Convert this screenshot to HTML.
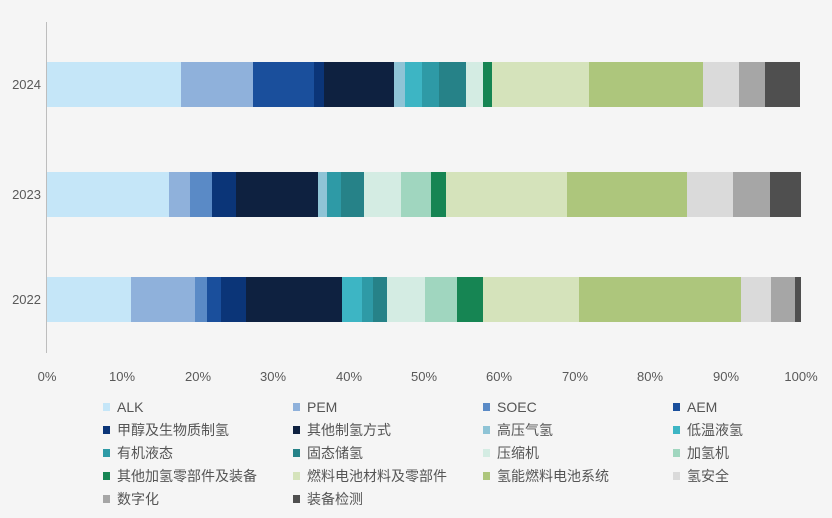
<!DOCTYPE html>
<html><head><meta charset="utf-8"><style>
body{margin:0;background:#f5f5f5}
svg{display:block;font-family:"Liberation Sans","Noto Sans CJK SC",sans-serif}
</style></head><body>
<svg width="832" height="518" viewBox="0 0 832 518" xmlns="http://www.w3.org/2000/svg">
<rect width="832" height="518" fill="#f5f5f5"/>
<line x1="46.5" y1="22" x2="46.5" y2="353" stroke="#bdbdbd" stroke-width="1"/>
<g id="b2024">
<rect x="47" y="62" width="134" height="45" fill="#c5e6f8"/>
<rect x="181" y="62" width="72" height="45" fill="#8fb1db"/>
<rect x="253" y="62" width="61" height="45" fill="#1a4f9c"/>
<rect x="314" y="62" width="10" height="45" fill="#0b3578"/>
<rect x="324" y="62" width="70" height="45" fill="#0e2140"/>
<rect x="394" y="62" width="11" height="45" fill="#8fc4d6"/>
<rect x="405" y="62" width="17" height="45" fill="#3db5c4"/>
<rect x="422" y="62" width="17" height="45" fill="#2e9aa6"/>
<rect x="439" y="62" width="27" height="45" fill="#268288"/>
<rect x="466" y="62" width="17" height="45" fill="#d4ece3"/>
<rect x="483" y="62" width="9" height="45" fill="#168553"/>
<rect x="492" y="62" width="97" height="45" fill="#d5e3bb"/>
<rect x="589" y="62" width="114" height="45" fill="#adc67c"/>
<rect x="703" y="62" width="36" height="45" fill="#dadada"/>
<rect x="739" y="62" width="26" height="45" fill="#a6a6a6"/>
<rect x="765" y="62" width="35" height="45" fill="#4f4f4f"/>
</g>
<g id="b2023">
<rect x="47" y="172" width="122" height="45" fill="#c5e6f8"/>
<rect x="169" y="172" width="21" height="45" fill="#8fb1db"/>
<rect x="190" y="172" width="22" height="45" fill="#5a8ac6"/>
<rect x="212" y="172" width="24" height="45" fill="#0b3578"/>
<rect x="236" y="172" width="82" height="45" fill="#0e2140"/>
<rect x="318" y="172" width="9" height="45" fill="#8fc4d6"/>
<rect x="327" y="172" width="14" height="45" fill="#2e9aa6"/>
<rect x="341" y="172" width="23" height="45" fill="#268288"/>
<rect x="364" y="172" width="37" height="45" fill="#d4ece3"/>
<rect x="401" y="172" width="30" height="45" fill="#a0d6bf"/>
<rect x="431" y="172" width="15" height="45" fill="#168553"/>
<rect x="446" y="172" width="121" height="45" fill="#d5e3bb"/>
<rect x="567" y="172" width="120" height="45" fill="#adc67c"/>
<rect x="687" y="172" width="46" height="45" fill="#dadada"/>
<rect x="733" y="172" width="37" height="45" fill="#a6a6a6"/>
<rect x="770" y="172" width="31" height="45" fill="#4f4f4f"/>
</g>
<g id="b2022">
<rect x="47" y="277" width="84" height="45" fill="#c5e6f8"/>
<rect x="131" y="277" width="64" height="45" fill="#8fb1db"/>
<rect x="195" y="277" width="12" height="45" fill="#5a8ac6"/>
<rect x="207" y="277" width="14" height="45" fill="#1a4f9c"/>
<rect x="221" y="277" width="25" height="45" fill="#0b3578"/>
<rect x="246" y="277" width="96" height="45" fill="#0e2140"/>
<rect x="342" y="277" width="20" height="45" fill="#3db5c4"/>
<rect x="362" y="277" width="11" height="45" fill="#2e9aa6"/>
<rect x="373" y="277" width="14" height="45" fill="#268288"/>
<rect x="387" y="277" width="38" height="45" fill="#d4ece3"/>
<rect x="425" y="277" width="32" height="45" fill="#a0d6bf"/>
<rect x="457" y="277" width="26" height="45" fill="#168553"/>
<rect x="483" y="277" width="96" height="45" fill="#d5e3bb"/>
<rect x="579" y="277" width="162" height="45" fill="#adc67c"/>
<rect x="741" y="277" width="30" height="45" fill="#dadada"/>
<rect x="771" y="277" width="24" height="45" fill="#a6a6a6"/>
<rect x="795" y="277" width="6" height="45" fill="#4f4f4f"/>
</g>
<g font-size="13" fill="#595959" text-anchor="end">
<text x="41" y="89">2024</text>
<text x="41" y="199">2023</text>
<text x="41" y="304">2022</text>
</g>
<g font-size="13" fill="#595959" text-anchor="middle">
<text x="47" y="381">0%</text><text x="122" y="381">10%</text><text x="198" y="381">20%</text>
<text x="273" y="381">30%</text><text x="349" y="381">40%</text><text x="424" y="381">50%</text>
<text x="499" y="381">60%</text><text x="575" y="381">70%</text><text x="650" y="381">80%</text>
<text x="726" y="381">90%</text><text x="801" y="381">100%</text>
</g>
<g font-size="14" fill="#555">
<rect x="103" y="403" width="7" height="8" fill="#c5e6f8"/><text x="117" y="412">ALK</text>
<rect x="293" y="403" width="7" height="8" fill="#8fb1db"/><text x="307" y="412">PEM</text>
<rect x="483" y="403" width="7" height="8" fill="#5a8ac6"/><text x="497" y="412">SOEC</text>
<rect x="673" y="403" width="7" height="8" fill="#1a4f9c"/><text x="687" y="412">AEM</text>
<rect x="103" y="426" width="7" height="8" fill="#0b3578"/><text x="117" y="435">甲醇及生物质制氢</text>
<rect x="293" y="426" width="7" height="8" fill="#0e2140"/><text x="307" y="435">其他制氢方式</text>
<rect x="483" y="426" width="7" height="8" fill="#8fc4d6"/><text x="497" y="435">高压气氢</text>
<rect x="673" y="426" width="7" height="8" fill="#3db5c4"/><text x="687" y="435">低温液氢</text>
<rect x="103" y="449" width="7" height="8" fill="#2e9aa6"/><text x="117" y="458">有机液态</text>
<rect x="293" y="449" width="7" height="8" fill="#268288"/><text x="307" y="458">固态储氢</text>
<rect x="483" y="449" width="7" height="8" fill="#d4ece3"/><text x="497" y="458">压缩机</text>
<rect x="673" y="449" width="7" height="8" fill="#a0d6bf"/><text x="687" y="458">加氢机</text>
<rect x="103" y="472" width="7" height="8" fill="#168553"/><text x="117" y="481">其他加氢零部件及装备</text>
<rect x="293" y="472" width="7" height="8" fill="#d5e3bb"/><text x="307" y="481">燃料电池材料及零部件</text>
<rect x="483" y="472" width="7" height="8" fill="#adc67c"/><text x="497" y="481">氢能燃料电池系统</text>
<rect x="673" y="472" width="7" height="8" fill="#dadada"/><text x="687" y="481">氢安全</text>
<rect x="103" y="495" width="7" height="8" fill="#a6a6a6"/><text x="117" y="504">数字化</text>
<rect x="293" y="495" width="7" height="8" fill="#4f4f4f"/><text x="307" y="504">装备检测</text>
</g>
</svg>
</body></html>
